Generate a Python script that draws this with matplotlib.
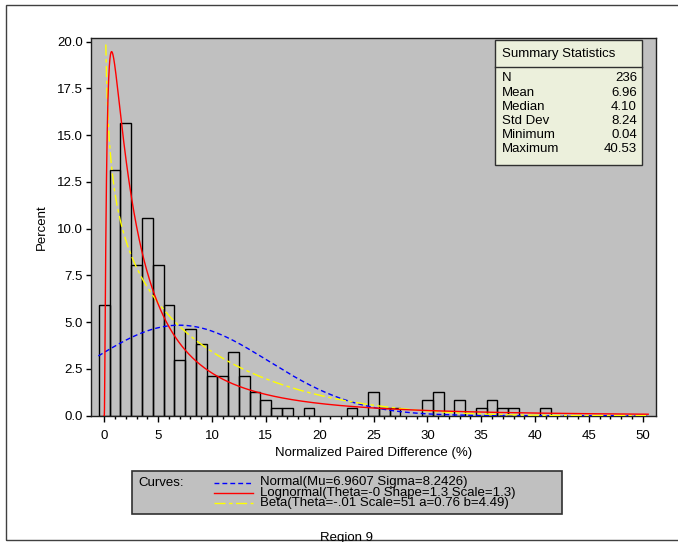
import math
import numpy as np
import matplotlib
matplotlib.use("Agg")
import matplotlib.pyplot as plt
from matplotlib.patches import Rectangle
from matplotlib.lines import Line2D

plt.rcParams['font.family'] = ['Liberation Sans', 'DejaVu Sans']
FS = 9.5

# histogram: bin midpoints (width 1) and observation counts
bin_mid = list(range(0, 42))
counts = [14, 31, 37, 19, 25, 19, 14, 7, 11, 9,
          5, 5, 8, 5, 3, 2, 1, 1, 0, 1,
          0, 0, 0, 1, 0, 3, 1, 1, 0, 0,
          2, 3, 0, 2, 0, 1, 2, 1, 1, 0,
          0, 1]
n_obs = 236

stat_names = ['N', 'Mean', 'Median', 'Std Dev', 'Minimum', 'Maximum']
stat_values = ['236', '6.96', '4.10', '8.24', '0.04', '40.53']

# fitted curve parameters
normal_mu, normal_sigma = 6.9607, 8.2426
logn_theta, logn_shape, logn_scale = 0.0, 1.3, 1.3
beta_theta, beta_scale, beta_a, beta_b = -0.01, 51.0, 0.76, 4.49

curve_labels = ['Normal(Mu=6.9607 Sigma=8.2426)',
                'Lognormal(Theta=-0 Shape=1.3 Scale=1.3)',
                'Beta(Theta=-.01 Scale=51 a=0.76 b=4.49)']

W, H = 678, 542
fig = plt.figure(figsize=(W / 100, H / 100), dpi=100)
fig.patch.set_facecolor('white')

ax_l, ax_r, ax_t, ax_b = 90.5, 656, 37.7, 415.7
ax = fig.add_axes([ax_l / W, 1 - ax_b / H, (ax_r - ax_l) / W, (ax_b - ax_t) / H])
ax.set_facecolor('#C0C0C0')

pct = [c / n_obs * 100 for c in counts]
mids = [m for m, p in zip(bin_mid, pct) if p > 0]
hts = [p for p in pct if p > 0]
ax.bar(mids, hts, width=1.0, fill=False, edgecolor='black', linewidth=1.0, zorder=2)

# density curves in percent per unit bin
ymax = 20.0
xn = np.linspace(-0.55, 50.5, 800)
normal_y = 100 * np.exp(-0.5 * ((xn - normal_mu) / normal_sigma) ** 2) / (normal_sigma * math.sqrt(2 * math.pi))

xl = np.linspace(logn_theta + 1e-4, 50.5, 3000)
z = xl - logn_theta
logn_y = 100 * np.exp(-(np.log(z) - logn_scale) ** 2 / (2 * logn_shape ** 2)) / (z * logn_shape * math.sqrt(2 * math.pi))
xl = np.concatenate([[logn_theta], xl])
logn_y = np.concatenate([[0.0], logn_y])

xb = np.linspace(beta_theta + 1e-4, 50.5, 3000)
u = (xb - beta_theta) / beta_scale
bfun = math.gamma(beta_a) * math.gamma(beta_b) / math.gamma(beta_a + beta_b)
beta_y = 100 * u ** (beta_a - 1) * (1 - u) ** (beta_b - 1) / (bfun * beta_scale)
beta_y = np.where(beta_y > ymax, np.nan, beta_y)

normal_style = dict(color='#0000FF', linestyle=(0, (3.5, 2.2)), linewidth=1.0)
logn_style = dict(color='#FF0000', linestyle='-', linewidth=1.0)
beta_style = dict(color='#FFFF00', linestyle=(0, (8, 2.5, 2.5, 2.5)), linewidth=1.0)

ax.plot(xn, normal_y, zorder=3, **normal_style)
ax.plot(xb, beta_y, zorder=3, **beta_style)
ax.plot(xl, logn_y, zorder=4, **logn_style)

x0 = (ax_l - 104.3) / 10.77
x1 = (ax_r - 104.3) / 10.77
ax.set_xlim(x0, x1)
ax.set_ylim(0, (ax_b - ax_t) / 18.7)
ax.set_xticks(np.arange(0, 51, 5))
ax.set_xticks(np.arange(0, 51, 1), minor=True)
ax.set_yticks(np.arange(0, 20.01, 2.5))
ax.yaxis.set_major_formatter(matplotlib.ticker.FormatStrFormatter('%.1f'))
ax.tick_params(axis='x', which='major', length=4, width=1, direction='out', labelsize=FS, pad=6)
ax.tick_params(axis='x', which='minor', length=2.5, width=1, direction='out')
ax.tick_params(axis='y', which='major', length=3.5, width=1, direction='out', labelsize=FS, pad=2)
for s in ax.spines.values():
    s.set_color('#202020')
    s.set_linewidth(1.0)

ax.set_xlabel('Normalized Paired Difference (%)', fontsize=FS, va='center')
ax.xaxis.set_label_coords(0.5, (ax_b - 453) / (ax_b - ax_t))
ax.set_ylabel('Percent', fontsize=FS, va='center', ha='center')
ax.yaxis.set_label_coords((41.5 - ax_l) / (ax_r - ax_l), 0.5)

# summary statistics inset
def axx(px):
    return (px - ax_l) / (ax_r - ax_l)

def axy(py):
    return (ax_b - py) / (ax_b - ax_t)

bx0, bx1, by0, by1 = 495, 642, 40.5, 165
ax.add_patch(Rectangle((axx(bx0), axy(by1)), axx(bx1) - axx(bx0), axy(by0) - axy(by1),
                       transform=ax.transAxes, facecolor='#ECF0DC', edgecolor='#303030',
                       linewidth=1.0, zorder=5))
ax.plot([axx(bx0), axx(bx1)], [axy(66.7), axy(66.7)], transform=ax.transAxes,
        color='#303030', linewidth=1.0, zorder=6)
ax.text(axx(502), axy(54), 'Summary Statistics', transform=ax.transAxes,
        fontsize=FS, va='center', ha='left', zorder=7)
row_y = [78.3, 92.5, 106.8, 121, 135.2, 149.4]
for name, val, ry in zip(stat_names, stat_values, row_y):
    ax.text(axx(502), axy(ry), name, transform=ax.transAxes, fontsize=FS,
            va='center', ha='left', zorder=7)
    ax.text(axx(637), axy(ry), val, transform=ax.transAxes, fontsize=FS,
            va='center', ha='right', zorder=7)

# curve legend box under the axes
fig.patches.append(Rectangle((131.7 / W, 1 - 514 / H), 430 / W, 43 / H,
                             transform=fig.transFigure, facecolor='#C0C0C0',
                             edgecolor='#303030', linewidth=1.2))
fig.text(138.5 / W, 1 - 483 / H, 'Curves:', fontsize=FS, va='center', ha='left')
legend_rows = [482.5, 492.8, 503.2]
for lbl, sty, ry in zip(curve_labels, [normal_style, logn_style, beta_style], legend_rows):
    fig.lines.append(Line2D([213.5 / W, 252.5 / W], [1 - ry / H, 1 - ry / H],
                            transform=fig.transFigure, **sty))
    fig.text(259.5 / W, 1 - ry / H, lbl, fontsize=FS, va='center', ha='left')

# outer frame and footnote
fig.patches.append(Rectangle((6 / W, 1 - 540 / H), 1.0, 535 / H,
                             transform=fig.transFigure, fill=False,
                             edgecolor='#404040', linewidth=1.0))
fig.text(346 / W, 1 - 541 / H, 'Region 9', fontsize=FS, va='baseline', ha='center')

fig.savefig('out.png', dpi=100)
